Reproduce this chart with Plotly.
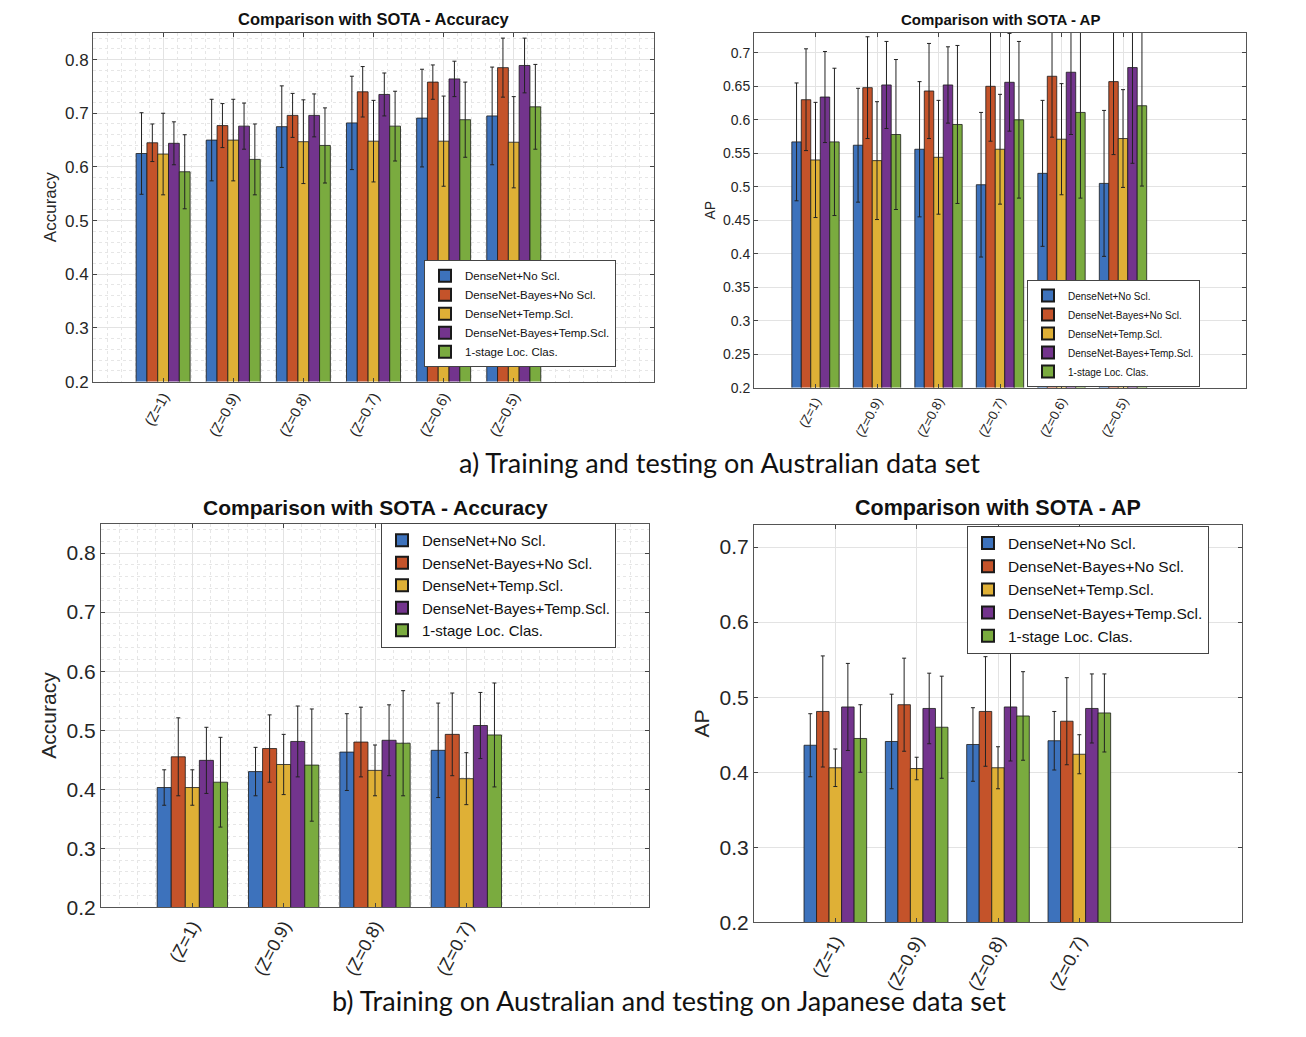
# Comparison with SOTA - grouped bars with error bars, four panels
import plotly.graph_objects as go

# categories
cats_a = ["(Z=1)", "(Z=0.9)", "(Z=0.8)", "(Z=0.7)", "(Z=0.6)", "(Z=0.5)"]
cats_b = ["(Z=1)", "(Z=0.9)", "(Z=0.8)", "(Z=0.7)"]

series = ["DenseNet+No Scl.", "DenseNet-Bayes+No Scl.", "DenseNet+Temp.Scl.",
          "DenseNet-Bayes+Temp.Scl.", "1-stage Loc. Clas."]
colors = ["#3d72bc", "#c4532a", "#dfb036", "#73348d", "#7aab3f"]

# a) Australian - Accuracy
acc_a_dn = [0.625, 0.650, 0.675, 0.682, 0.691, 0.695]
acc_a_bn = [0.645, 0.677, 0.696, 0.740, 0.758, 0.785]
acc_a_dt = [0.624, 0.650, 0.647, 0.648, 0.648, 0.646]
acc_a_bt = [0.644, 0.676, 0.696, 0.735, 0.764, 0.789]
acc_a_os = [0.591, 0.614, 0.640, 0.676, 0.688, 0.712]
acc_a_dn_err = [0.076, 0.076, 0.076, 0.087, 0.091, 0.091]
acc_a_bn_err = [0.035, 0.041, 0.041, 0.047, 0.032, 0.055]
acc_a_dt_err = [0.076, 0.076, 0.078, 0.076, 0.084, 0.085]
acc_a_bt_err = [0.040, 0.043, 0.040, 0.040, 0.033, 0.051]
acc_a_os_err = [0.069, 0.066, 0.070, 0.065, 0.070, 0.079]

# a) Australian - AP
ap_a_dn = [0.567, 0.562, 0.556, 0.503, 0.520, 0.505]
ap_a_bn = [0.630, 0.648, 0.643, 0.650, 0.665, 0.657]
ap_a_dt = [0.540, 0.539, 0.544, 0.556, 0.571, 0.572]
ap_a_bt = [0.634, 0.652, 0.652, 0.656, 0.671, 0.678]
ap_a_os = [0.567, 0.578, 0.593, 0.600, 0.611, 0.621]
ap_a_dn_err = [0.088, 0.085, 0.101, 0.108, 0.109, 0.109]
ap_a_bn_err = [0.076, 0.076, 0.071, 0.082, 0.091, 0.109]
ap_a_dt_err = [0.086, 0.088, 0.085, 0.082, 0.083, 0.073]
ap_a_bt_err = [0.068, 0.065, 0.057, 0.073, 0.093, 0.143]
ap_a_os_err = [0.110, 0.112, 0.118, 0.117, 0.128, 0.120]

# b) Japanese - Accuracy
acc_b_dn = [0.403, 0.430, 0.463, 0.466]
acc_b_bn = [0.455, 0.469, 0.480, 0.493]
acc_b_dt = [0.403, 0.442, 0.432, 0.418]
acc_b_bt = [0.449, 0.481, 0.483, 0.508]
acc_b_os = [0.412, 0.441, 0.478, 0.492]
acc_b_dn_err = [0.030, 0.041, 0.065, 0.080]
acc_b_bn_err = [0.066, 0.057, 0.059, 0.070]
acc_b_dt_err = [0.030, 0.051, 0.043, 0.044]
acc_b_bt_err = [0.056, 0.060, 0.060, 0.056]
acc_b_os_err = [0.076, 0.095, 0.089, 0.088]

# b) Japanese - AP
ap_b_dn = [0.436, 0.441, 0.437, 0.442]
ap_b_bn = [0.481, 0.490, 0.481, 0.468]
ap_b_dt = [0.406, 0.405, 0.406, 0.424]
ap_b_bt = [0.487, 0.485, 0.487, 0.485]
ap_b_os = [0.445, 0.460, 0.475, 0.479]
ap_b_dn_err = [0.042, 0.063, 0.049, 0.039]
ap_b_bn_err = [0.074, 0.062, 0.073, 0.058]
ap_b_dt_err = [0.025, 0.015, 0.028, 0.026]
ap_b_bt_err = [0.058, 0.047, 0.072, 0.046]
ap_b_os_err = [0.045, 0.068, 0.059, 0.052]

# page body has an 8px margin; keep the figure inside the window
OFF = 8
W, H = 1306 - 2 * OFF, 1037 - OFF
FONT = "Liberation Sans, Arial, sans-serif"


def fy(y):
    # small vertical correction measured on the rendered page
    return (y + 0.67) / 0.9897 - OFF


def px_x(a, b):
    return [(a - OFF) / W, (b - OFF) / W]


def px_y(top, bottom):
    return [1 - fy(bottom) / H, 1 - fy(top) / H]


panels = [
    dict(cats=cats_a, vals=[acc_a_dn, acc_a_bn, acc_a_dt, acc_a_bt, acc_a_os],
         errs=[acc_a_dn_err, acc_a_bn_err, acc_a_dt_err, acc_a_bt_err, acc_a_os_err],
         box=(93, 32, 654, 381), yr=[0.2, 0.85], yticks=[0.2, 0.3, 0.4, 0.5, 0.6, 0.7, 0.8],
         xr=[0, 8], minor=True, title="Comparison with SOTA - Accuracy", ylabel="Accuracy",
         tfs=16.5, fs=17, xfs=14.5, lfs=11.5, leg=(424, 313)),
    dict(cats=cats_a, vals=[ap_a_dn, ap_a_bn, ap_a_dt, ap_a_bt, ap_a_os],
         errs=[ap_a_dn_err, ap_a_bn_err, ap_a_dt_err, ap_a_bt_err, ap_a_os_err],
         box=(754, 32, 1246, 387), yr=[0.2, 0.73],
         yticks=[0.2, 0.25, 0.3, 0.35, 0.4, 0.45, 0.5, 0.55, 0.6, 0.65, 0.7],
         xr=[0, 8], minor=False, title="Comparison with SOTA - AP", ylabel="AP",
         tfs=15, fs=14, xfs=13, lfs=10, leg=(1027, 333)),
    dict(cats=cats_b, vals=[acc_b_dn, acc_b_bn, acc_b_dt, acc_b_bt, acc_b_os],
         errs=[acc_b_dn_err, acc_b_bn_err, acc_b_dt_err, acc_b_bt_err, acc_b_os_err],
         box=(101, 523, 649, 907), yr=[0.2, 0.85], yticks=[0.2, 0.3, 0.4, 0.5, 0.6, 0.7, 0.8],
         xr=[0, 6], minor=True, title="Comparison with SOTA - Accuracy", ylabel="Accuracy",
         tfs=21, fs=21, xfs=18, lfs=15, leg=(381, 585)),
    dict(cats=cats_b, vals=[ap_b_dn, ap_b_bn, ap_b_dt, ap_b_bt, ap_b_os],
         errs=[ap_b_dn_err, ap_b_bn_err, ap_b_dt_err, ap_b_bt_err, ap_b_os_err],
         box=(754, 524, 1242, 922), yr=[0.2, 0.73], yticks=[0.2, 0.3, 0.4, 0.5, 0.6, 0.7],
         xr=[0, 6], minor=False, title="Comparison with SOTA - AP", ylabel="AP",
         tfs=21.5, fs=21, xfs=18, lfs=15.5, leg=(967, 589)),
]

fig = go.Figure()
layout = dict(
    width=W, height=H, margin=dict(l=0, r=0, t=0, b=0),
    paper_bgcolor="white", plot_bgcolor="white",
    barmode="group", bargap=0.23, bargroupgap=0,
    font=dict(family=FONT, color="#262626"),
    annotations=[],
)

for i, p in enumerate(panels):
    n = "" if i == 0 else str(i + 1)
    xa, ya, lg = "x" + n, "y" + n, "legend" + n
    xs = list(range(1, len(p["cats"]) + 1))
    for s, name in enumerate(series):
        fig.add_trace(go.Bar(
            x=xs, y=p["vals"][s], name=name, xaxis=xa, yaxis=ya, legend=lg,
            marker=dict(color=colors[s], line=dict(color="#1a1a1a", width=0.8)),
            error_y=dict(type="data", array=p["errs"][s], color="#222",
                         thickness=1, width=2),
        ))
    l, t, r, b = p["box"]
    grid = "#e3e3e3"
    xaxis = dict(
        domain=px_x(l, r), anchor=ya, range=p["xr"],
        tickmode="array", tickvals=xs, ticktext=p["cats"], tickangle=-62,
        tickfont=dict(size=p["xfs"], color="#262626"),
        showline=True, linecolor="#555", linewidth=1, mirror="allticks",
        ticks="inside", ticklen=4, tickcolor="#444",
        showgrid=True, gridcolor=grid, gridwidth=1, zeroline=False,
    )
    yaxis = dict(
        domain=px_y(t, b), anchor=xa, range=p["yr"],
        tickmode="array", tickvals=p["yticks"],
        ticktext=[f"{v:g}" for v in p["yticks"]],
        tickfont=dict(size=p["fs"], color="#262626"),
        title=dict(text=p["ylabel"], font=dict(size=p["fs"]), standoff=4),
        showline=True, linecolor="#555", linewidth=1, mirror="allticks",
        ticks="inside", ticklen=4, tickcolor="#444",
        showgrid=True, gridcolor=grid, gridwidth=1, zeroline=False,
    )
    if p["minor"]:
        xaxis["minor"] = dict(tickmode="linear", tick0=0, dtick=0.2, showgrid=True,
                              gridcolor="#e6e6e6", griddash="dot", ticks="")
        yaxis["minor"] = dict(tickmode="linear", tick0=0.2, dtick=0.02, showgrid=True,
                              gridcolor="#e6e6e6", griddash="dot", ticks="")
    layout["xaxis" + n] = xaxis
    layout["yaxis" + n] = yaxis
    lx, ly = p["leg"]
    layout[lg] = dict(
        x=(lx - OFF) / W, y=1 - fy(ly) / H, xanchor="left", yanchor="middle",
        bgcolor="white", bordercolor="#444", borderwidth=1,
        font=dict(size=p["lfs"], color="#111"), tracegroupgap=0,
        itemsizing="constant",
    )
    layout["annotations"].append(dict(
        text="<b>" + p["title"] + "</b>", xref="paper", yref="paper",
        x=((l + r) / 2 - OFF) / W, y=1 - fy(t - 3) / H, xanchor="center", yanchor="bottom",
        showarrow=False, font=dict(size=p["tfs"], color="#111"),
    ))

CAP = dict(family="Lato, Open Sans, sans-serif", size=27, color="#111")
layout["annotations"].append(dict(
    text="a) Training and testing on Australian data set", xref="paper", yref="paper",
    x=(719 - OFF) / W, y=1 - fy(462) / H, xanchor="center", yanchor="middle",
    showarrow=False, font=CAP,
))
layout["annotations"].append(dict(
    text="b) Training on Australian and testing on Japanese data set", xref="paper", yref="paper",
    x=(669 - OFF) / W, y=1 - fy(1000) / H, xanchor="center", yanchor="middle",
    showarrow=False, font=CAP,
))

fig.update_layout(**layout)
fig.write_html("out.html")
